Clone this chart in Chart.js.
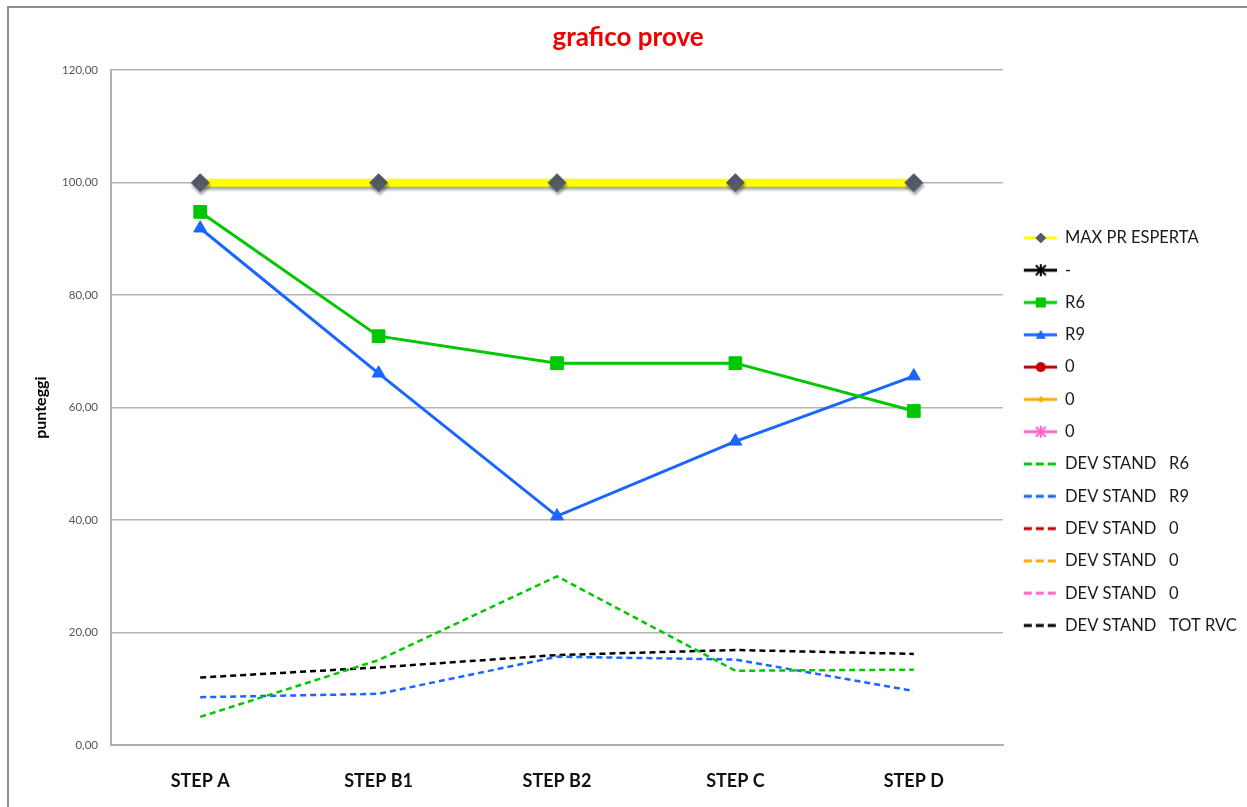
<!DOCTYPE html>
<html>
<head>
<meta charset="utf-8">
<script src="https://cdn.jsdelivr.net/npm/chart.js@4.4.1/dist/chart.umd.min.js"></script>
<style>
  html, body { margin: 0; padding: 0; background: #fff; }
  #wrap { position: relative; width: 1247px; height: 807px; }
  #frame { position: absolute; left: 7px; top: 6px; right: 0; bottom: 0; border-left: 2px solid #8e8e8e; border-top: 2px solid #8e8e8e; pointer-events: none; }
</style>
</head>
<body>
<div id="wrap">
  <canvas id="c" width="1247" height="807"></canvas>
  <div id="frame"></div>
</div>
<script>
const categories = ['STEP A', 'STEP B1', 'STEP B2', 'STEP C', 'STEP D']
const maxEsperta = [100, 100, 100, 100, 100]
const serieVuota = [null, null, null, null, null]
const r6 = [94.8, 72.7, 67.9, 67.9, 59.4]
const r9 = [91.9, 66.1, 40.7, 54.0, 65.6]
const devR6 = [5.0, 15.1, 30.0, 13.2, 13.4]
const devR9 = [8.5, 9.1, 15.7, 15.2, 9.6]
const devTot = [12.0, 13.8, 16.0, 16.9, 16.2]
const yMin = 0
const yMax = 120
const yStep = 20

const FONT = 'Lato, "Open Sans", sans-serif'

// piccola icona per la legenda: linea + marcatore
const legendIcon = (color, dashed, marker, fill, stroke) => {
  const cv = document.createElement('canvas')
  cv.width = 38
  cv.height = 14
  const ctx = cv.getContext('2d')
  ctx.strokeStyle = color
  ctx.lineWidth = 3
  if (dashed) ctx.setLineDash([8, 4])
  ctx.beginPath()
  ctx.moveTo(5, 7)
  ctx.lineTo(dashed ? 37 : 38, 7)
  ctx.stroke()
  ctx.setLineDash([])
  const cx = 22, cy = 7
  ctx.fillStyle = fill
  ctx.strokeStyle = stroke || fill
  ctx.lineWidth = 1
  ctx.beginPath()
  if (marker === 'rectRot') {
    ctx.moveTo(cx, cy - 5); ctx.lineTo(cx + 5, cy); ctx.lineTo(cx, cy + 5); ctx.lineTo(cx - 5, cy); ctx.closePath()
    ctx.fill(); ctx.stroke()
  } else if (marker === 'smallRot') {
    ctx.moveTo(cx, cy - 3.5); ctx.lineTo(cx + 3.5, cy); ctx.lineTo(cx, cy + 3.5); ctx.lineTo(cx - 3.5, cy); ctx.closePath()
    ctx.fill()
  } else if (marker === 'rect') {
    ctx.rect(cx - 5, cy - 5, 10, 10); ctx.fill()
  } else if (marker === 'triangle') {
    ctx.moveTo(cx, cy - 5); ctx.lineTo(cx + 5, cy + 4); ctx.lineTo(cx - 5, cy + 4); ctx.closePath(); ctx.fill()
  } else if (marker === 'circle') {
    ctx.arc(cx, cy, 5, 0, Math.PI * 2); ctx.fill()
  } else if (marker === 'star') {
    ctx.lineWidth = 2
    ctx.moveTo(cx - 5, cy - 5); ctx.lineTo(cx + 5, cy + 5)
    ctx.moveTo(cx + 5, cy - 5); ctx.lineTo(cx - 5, cy + 5)
    ctx.moveTo(cx, cy - 6); ctx.lineTo(cx, cy + 6)
    ctx.stroke()
  }
  return cv
}

const solid = (label, data, color, marker, radius, fill, stroke, icon) => ({
  label,
  data,
  borderColor: color,
  backgroundColor: color,
  borderWidth: 3,
  pointStyle: marker,
  pointRadius: radius,
  pointHoverRadius: radius,
  pointBackgroundColor: fill,
  pointBorderColor: stroke || fill,
  pointBorderWidth: 1,
  tension: 0,
  legendIcon: icon
})

const dashed = (label, data, color) => ({
  label,
  data,
  borderColor: color,
  backgroundColor: color,
  borderWidth: 2.5,
  borderDash: [6, 4],
  pointRadius: 0,
  pointHoverRadius: 0,
  tension: 0,
  legendIcon: legendIcon(color, true)
})

const datasets = [
  Object.assign(solid('MAX PR ESPERTA', maxEsperta, '#ffff00', 'rectRot', 9, '#565c66', '#4d6482',
    legendIcon('#ffff00', false, 'rectRot', '#565c66', '#4d6482')), { borderWidth: 8 }),
  solid('-', serieVuota, '#000000', 'star', 6, '#000000', '#000000', legendIcon('#000000', false, 'star', '#000000')),
  solid('R6', r6, '#00c800', 'rect', 9, '#00c800', '#00c800', legendIcon('#00c800', false, 'rect', '#00c800')),
  solid('R9', r9, '#1a66ff', 'triangle', 7.5, '#1a66ff', '#1a66ff', legendIcon('#1a66ff', false, 'triangle', '#1a66ff')),
  solid('0', serieVuota, '#c00000', 'circle', 6, '#c00000', '#c00000', legendIcon('#c00000', false, 'circle', '#c00000')),
  solid('0', serieVuota, '#ffaa00', 'rectRot', 4, '#ffaa00', '#ffaa00', legendIcon('#ffaa00', false, 'smallRot', '#ffaa00')),
  solid('0', serieVuota, '#ff66cc', 'star', 6, '#ff66cc', '#ff66cc', legendIcon('#ff66cc', false, 'star', '#ff66cc')),
  dashed('DEV STAND   R6', devR6, '#00c800'),
  dashed('DEV STAND   R9', devR9, '#1a66ff'),
  dashed('DEV STAND   0', serieVuota, '#c00000'),
  dashed('DEV STAND   0', serieVuota, '#ffaa00'),
  dashed('DEV STAND   0', serieVuota, '#ff66cc'),
  dashed('DEV STAND   TOT RVC', devTot, '#000000')
]

// ombra sotto la linea gialla
const maxShadow = {
  id: 'maxShadow',
  beforeDatasetDraw(chart, args) {
    if (args.index !== 0) return
    const ctx = chart.ctx
    ctx.save()
    ctx.shadowColor = 'rgba(0,0,0,0.35)'
    ctx.shadowOffsetX = 1
    ctx.shadowOffsetY = 3
    ctx.shadowBlur = 3
  },
  afterDatasetDraw(chart, args) {
    if (args.index === 0) chart.ctx.restore()
  }
}

// larghezza fissa della legenda a destra
const legendWidth = {
  id: 'legendWidth',
  afterInit(chart) {
    const legend = chart.legend
    const fit = legend.fit
    legend.fit = function () {
      fit.call(this)
      this.width = 244
    }
  }
}

new Chart(document.getElementById('c'), {
  type: 'line',
  data: { labels: categories, datasets },
  plugins: [maxShadow, legendWidth],
  options: {
    responsive: false,
    animation: false,
    layout: { padding: { left: 9, right: 0, top: 0, bottom: 0 } },
    plugins: {
      title: {
        display: true,
        text: 'grafico prove',
        color: '#f00000',
        font: { family: FONT, size: 26, weight: 'bold' },
        padding: { top: 22, bottom: 17 }
      },
      legend: {
        position: 'right',
        title: { display: true, text: '', font: { size: 12 }, padding: { top: 42, bottom: 0 } },
        labels: {
          usePointStyle: true,
          pointStyleWidth: 38,
          padding: 15.8,
          color: '#1a1a1a',
          font: { family: FONT, size: 16.5 },
          generateLabels: (chart) => chart.data.datasets.map((ds, i) => ({
            text: ds.label,
            pointStyle: ds.legendIcon,
            fillStyle: 'transparent',
            strokeStyle: 'transparent',
            lineWidth: 0,
            fontColor: '#1a1a1a',
            hidden: false,
            datasetIndex: i
          }))
        }
      },
      tooltip: { enabled: false }
    },
    scales: {
      x: {
        offset: true,
        grid: { display: false, offset: true },
        border: { display: true, color: '#b0b0b0', width: 2 },
        ticks: {
          color: '#111',
          padding: 17,
          font: { family: FONT, size: 18, weight: 'bold' }
        },
        afterFit: (scale) => { scale.height = 62 }
      },
      y: {
        min: yMin,
        max: yMax,
        grid: { color: '#b4b4b4', lineWidth: 1.5, drawTicks: false },
        border: { display: true, color: '#b0b0b0', width: 2 },
        ticks: {
          stepSize: yStep,
          color: '#555',
          padding: 13,
          font: { family: FONT, size: 11.5 },
          callback: (v) => v.toFixed(2).replace('.', ',')
        },
        title: {
          display: true,
          text: 'punteggi',
          color: '#000',
          font: { family: FONT, size: 16, weight: 'bold' },
          padding: { top: 22 }
        },
        afterFit: (scale) => { scale.width = 102 }
      }
    }
  }
})
</script>
</body>
</html>
